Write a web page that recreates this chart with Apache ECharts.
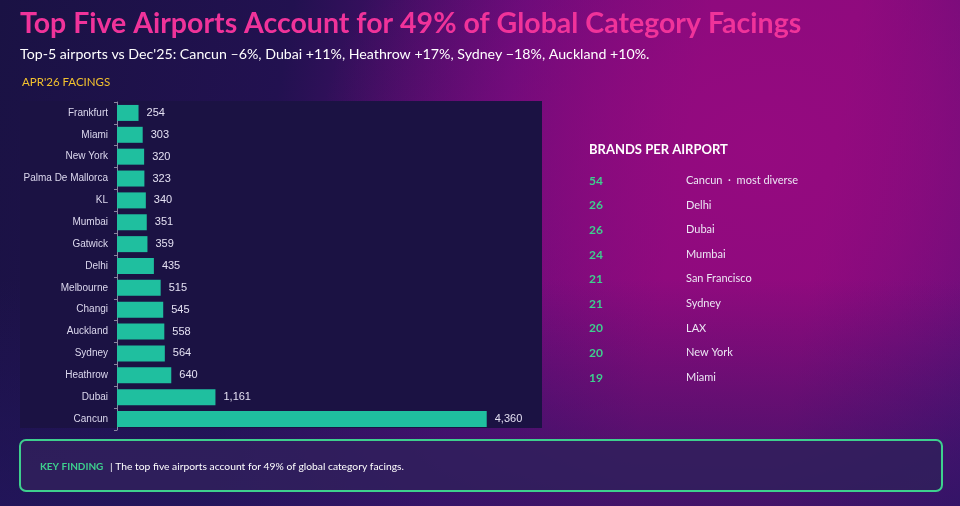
<!DOCTYPE html>
<html>
<head>
<meta charset="utf-8">
<script src="https://cdn.jsdelivr.net/npm/echarts@6/dist/echarts.min.js"></script>
<style>
  html, body { margin: 0; padding: 0; }
  body {
    width: 960px; height: 506px; overflow: hidden;
    background:
      linear-gradient(to bottom, rgba(0,0,0,0) 55%, rgba(36,22,96,0.7) 100%),
      radial-gradient(ellipse 440px 340px at 760px 150px, rgba(150,10,128,0.9), rgba(150,10,128,0) 100%),
      linear-gradient(100deg, #1a1244 0%, #221150 28%, #5e0c78 50%, #880a7c 68%, #8a0a7c 82%, #5a1078 100%);
  }
  #main { width: 960px; height: 506px; }
</style>
</head>
<body>
<div id="main"></div>
<script>
// facings, top to bottom as shown
var airports = ['Frankfurt', 'Miami', 'New York', 'Palma De Mallorca', 'KL', 'Mumbai', 'Gatwick',
  'Delhi', 'Melbourne', 'Changi', 'Auckland', 'Sydney', 'Heathrow', 'Dubai', 'Cancun'];
var facings = [254, 303, 320, 323, 340, 351, 359, 435, 515, 545, 558, 564, 640, 1161, 4360];

// brands per airport list
var brandCounts = [54, 26, 26, 24, 21, 21, 20, 20, 19];
var brandAirports = ['Cancun  \u00b7  most diverse', 'Delhi', 'Dubai', 'Mumbai', 'San Francisco',
  'Sydney', 'LAX', 'New York', 'Miami'];

var titleText = 'Top Five Airports Account for 49% of Global Category Facings';
var subtitleText = 'Top-5 airports vs Dec\'25: Cancun \u20136%, Dubai +11%, Heathrow +17%, Sydney \u221218%, Auckland +10%.';

var chart = echarts.init(document.getElementById('main'));

var graphics = [
  // dark chart panel
  { type: 'rect', z: -10, shape: { x: 20, y: 101, width: 522, height: 327 },
    style: { fill: '#1b1243' } },
  { type: 'text', left: 20, top: 9,
    style: { text: titleText, fill: '#f0339a', font: 'bold 28.5px Lato' } },
  { type: 'text', left: 20, top: 47,
    style: { text: subtitleText, fill: '#ffffff', font: '14.2px Lato' } },
  { type: 'text', left: 22, top: 76,
    style: { text: 'APR\'26 FACINGS', fill: '#f2c12e', font: '11.5px Lato' } },
  { type: 'text', left: 589, top: 143,
    style: { text: 'BRANDS PER AIRPORT', fill: '#ffffff', font: 'bold 13px Lato' } },
  // key finding box
  { type: 'rect', shape: { x: 20, y: 440, width: 922, height: 51, r: 6 },
    style: { fill: 'rgba(48,32,92,0.85)', stroke: '#3ecf8e', lineWidth: 2 } },
  { type: 'text', left: 40, top: 461,
    style: {
      text: '{k|KEY FINDING}  {t|| The top five airports account for 49% of global category facings.}',
      rich: {
        k: { fill: '#3ecf8e', font: 'bold 10px Lato' },
        t: { fill: '#ffffff', font: '10.3px Lato' }
      }
    } }
];

brandCounts.forEach(function (n, i) {
  var y = 175 + i * 24.6;
  graphics.push({ type: 'text', left: 589, top: y,
    style: { text: String(n), fill: '#3ecf8e', font: 'bold 12px Lato' } });
  graphics.push({ type: 'text', left: 686, top: y,
    style: { text: brandAirports[i], fill: '#ece6f4', font: '11px Lato' } });
});

var option = {
  backgroundColor: 'transparent',
  animation: false,
  graphic: graphics,
  grid: { left: 117, top: 102, right: 419, bottom: 76, containLabel: false },
  xAxis: {
    type: 'value', min: 0, max: 5000,
    show: false
  },
  yAxis: {
    type: 'category',
    data: airports,
    inverse: true,
    axisLine: { show: true, lineStyle: { color: '#8a86a0', width: 1 } },
    axisTick: { show: true, length: 3, lineStyle: { color: '#8a86a0' } },
    axisLabel: { color: '#dcd8ee', fontSize: 10, fontFamily: 'Liberation Sans', margin: 9 },
    splitLine: { show: false }
  },
  series: [{
    type: 'bar',
    data: facings,
    barWidth: 16,
    itemStyle: { color: '#1fbf9f' },
    label: {
      show: true, position: 'right', distance: 8,
      color: '#e4e0f2', fontSize: 11, fontFamily: 'Liberation Sans',
      formatter: function (p) { return p.value.toLocaleString('en-US'); }
    }
  }]
};

chart.setOption(option);
</script>
</body>
</html>
